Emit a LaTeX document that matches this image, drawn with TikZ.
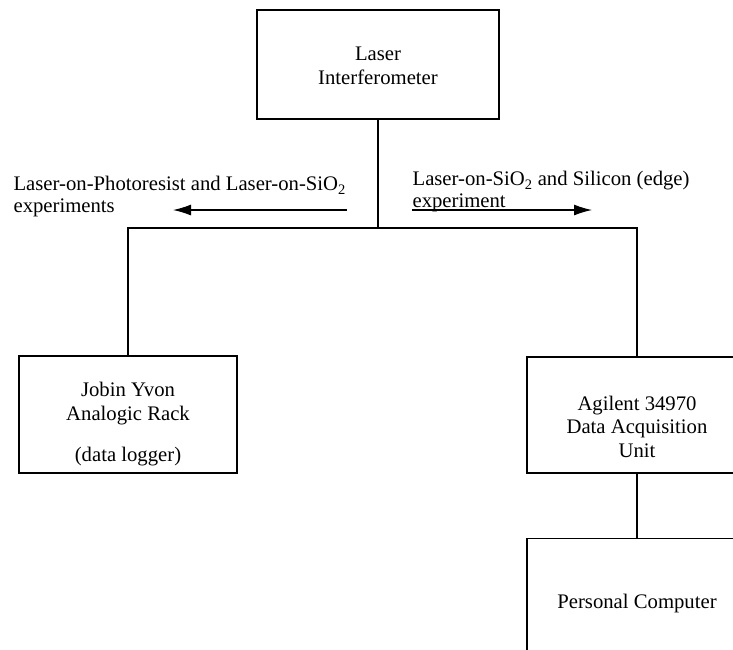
\documentclass[tikz,border=0pt]{standalone}
\usepackage{fontspec}
\setmainfont{Liberation Serif}
\usetikzlibrary{positioning, arrows.meta}
\tikzstyle{unit}=[draw, line width=1.2pt, align=center, inner ysep=0pt, font=\fontsize{20.7}{23.5}\selectfont]
\tikzstyle{lbl}=[align=left, inner sep=0pt, font=\fontsize{20.7}{22}\selectfont]

\begin{document}
\begin{tikzpicture}[x=1pt, y=-1pt, line width=1.2pt, > = {Latex[length=18pt,width=11pt]}]
                    \useasboundingbox (0,0) rectangle (733,649);
                    \clip (0,0) rectangle (733,649);
                    \node [unit, minimum width=242pt, minimum height=109pt, text height=49pt, text depth=10pt] (laser) at (378,64.5) {Laser\\Interferometer};
                    \node [unit, minimum width=218pt, minimum height=117pt, text height=104pt, text depth=10pt] (jobin) at (128,414.5) {Jobin Yvon\\Analogic Rack\\[18pt](data logger)};
                    \node [unit, minimum width=220pt, minimum height=116pt, text height=94pt, text depth=10pt] (agilent) at (637,415) {Agilent 34970\\Data Acquisition\\Unit};
                    \node [unit, minimum width=220pt, minimum height=130pt, below=64pt of agilent] (pc) {Personal Computer};
                    \coordinate (busl) at (128,228);
                    \coordinate (busr) at (637,228);
                    \coordinate (busm) at (laser.south |- busl);
                    \draw (laser.south) -- (busm);
                    \draw (jobin.north) -- (busl) -- (busr) -- (agilent.north);
                    \draw (agilent.south) -- (pc.north);
                    % experiment labels and arrows
                    \node [lbl, anchor=north west] (photo) at (13,176) {Laser-on-Photoresist and Laser-on-SiO\textsubscript{2}\\experiments};
                    \node [lbl, anchor=north west] (edge) at (412,171) {Laser-on-SiO\textsubscript{2} and Silicon (edge)\\experiment};
                    \coordinate (photos) at (347,210);
                    \coordinate (photoe) at (173,210);
                    \coordinate (edges) at (412,210);
                    \coordinate (edgee) at (592,210);
                    \draw[->] (photos) -- (photoe);
                    \draw[->] (edges) -- (edgee);
                \end{tikzpicture}
\end{document}
